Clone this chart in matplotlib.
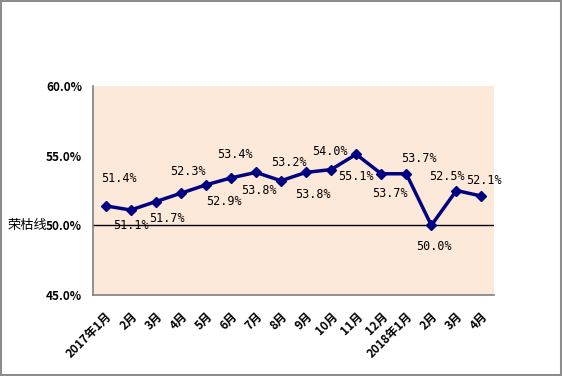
import matplotlib
matplotlib.use("Agg")
import matplotlib.pyplot as plt
from matplotlib.patches import Rectangle

plt.rcParams['font.family'] = ['Noto Sans CJK SC', 'DejaVu Sans']

categories = ["2017年1月", "2月", "3月", "4月", "5月", "6月", "7月", "8月", "9月",
              "10月", "11月", "12月", "2018年1月", "2月", "3月", "4月"]
values = [51.4, 51.1, 51.7, 52.3, 52.9, 53.4, 53.8, 53.2, 53.8, 54.0, 55.1, 53.7, 53.7, 50.0, 52.5, 52.1]
labels = ["51.4%", "51.1%", "51.7%", "52.3%", "52.9%", "53.4%", "53.8%", "53.2%", "53.8%",
          "54.0%", "55.1%", "53.7%", "53.7%", "50.0%", "52.5%", "52.1%"]
yticks = [45.0, 50.0, 55.0, 60.0]
ytick_labels = ["45.0%", "50.0%", "55.0%", "60.0%"]
threshold = 50.0
threshold_label = "荣枯线"

# label offsets in points (dx, dy)
offsets = [(10, 20), (0, -11), (8, -12), (5, 16), (13, -12), (3, 17), (2, -13), (6, 13),
           (5, -16), (-1, 13), (0, -16), (6, -14), (9, 11), (2, -15), (-7, 10), (2, 11)]

fig = plt.figure(figsize=(5.62, 3.76), dpi=100)
fig.patch.set_facecolor('white')
fig.patches.append(Rectangle((0.001, 0.002), 0.997, 0.995, transform=fig.transFigure,
                             fill=False, edgecolor='#8c8c8c', linewidth=1.5))

ax = fig.add_axes([0.1655, 0.2154, 0.7135, 0.5559])
ax.set_facecolor('#FDE9D9')
x = list(range(len(categories)))
ax.plot(x, values, color='#000080', linewidth=2.5, marker='D', markersize=5.5, zorder=3)
ax.axhline(threshold, color='black', linewidth=1, zorder=2)

for xi, v, lab, (dx, dy) in zip(x, values, labels, offsets):
    ax.annotate(lab, (xi, v), xytext=(dx, dy), textcoords='offset points',
                ha='center', va='center', fontsize=8.5,
                family=['DejaVu Sans Mono', 'DejaVu Sans'])

ax.set_xlim(-0.5, len(categories) - 0.5)
ax.set_ylim(45, 60)
ax.set_yticks(yticks)
ax.set_yticklabels(ytick_labels, fontsize=8.5, fontweight='bold')
ax.set_xticks(x)
ax.set_xticklabels(categories, rotation=45, ha='right', rotation_mode='anchor',
                   fontsize=8.5, fontweight='bold')
ax.tick_params(axis='y', length=0, pad=8)
ax.tick_params(axis='x', length=0, pad=11)
for s in ['top', 'right']:
    ax.spines[s].set_visible(False)
for s in ['left', 'bottom']:
    ax.spines[s].set_color('#808080')
    ax.spines[s].set_linewidth(1.2)

ax.annotate(threshold_label, (0, threshold), xycoords=('axes fraction', 'data'),
            xytext=(-33, 0), textcoords='offset points', ha='right', va='center',
            fontsize=9.5)

fig.savefig('out.png', dpi=100)
